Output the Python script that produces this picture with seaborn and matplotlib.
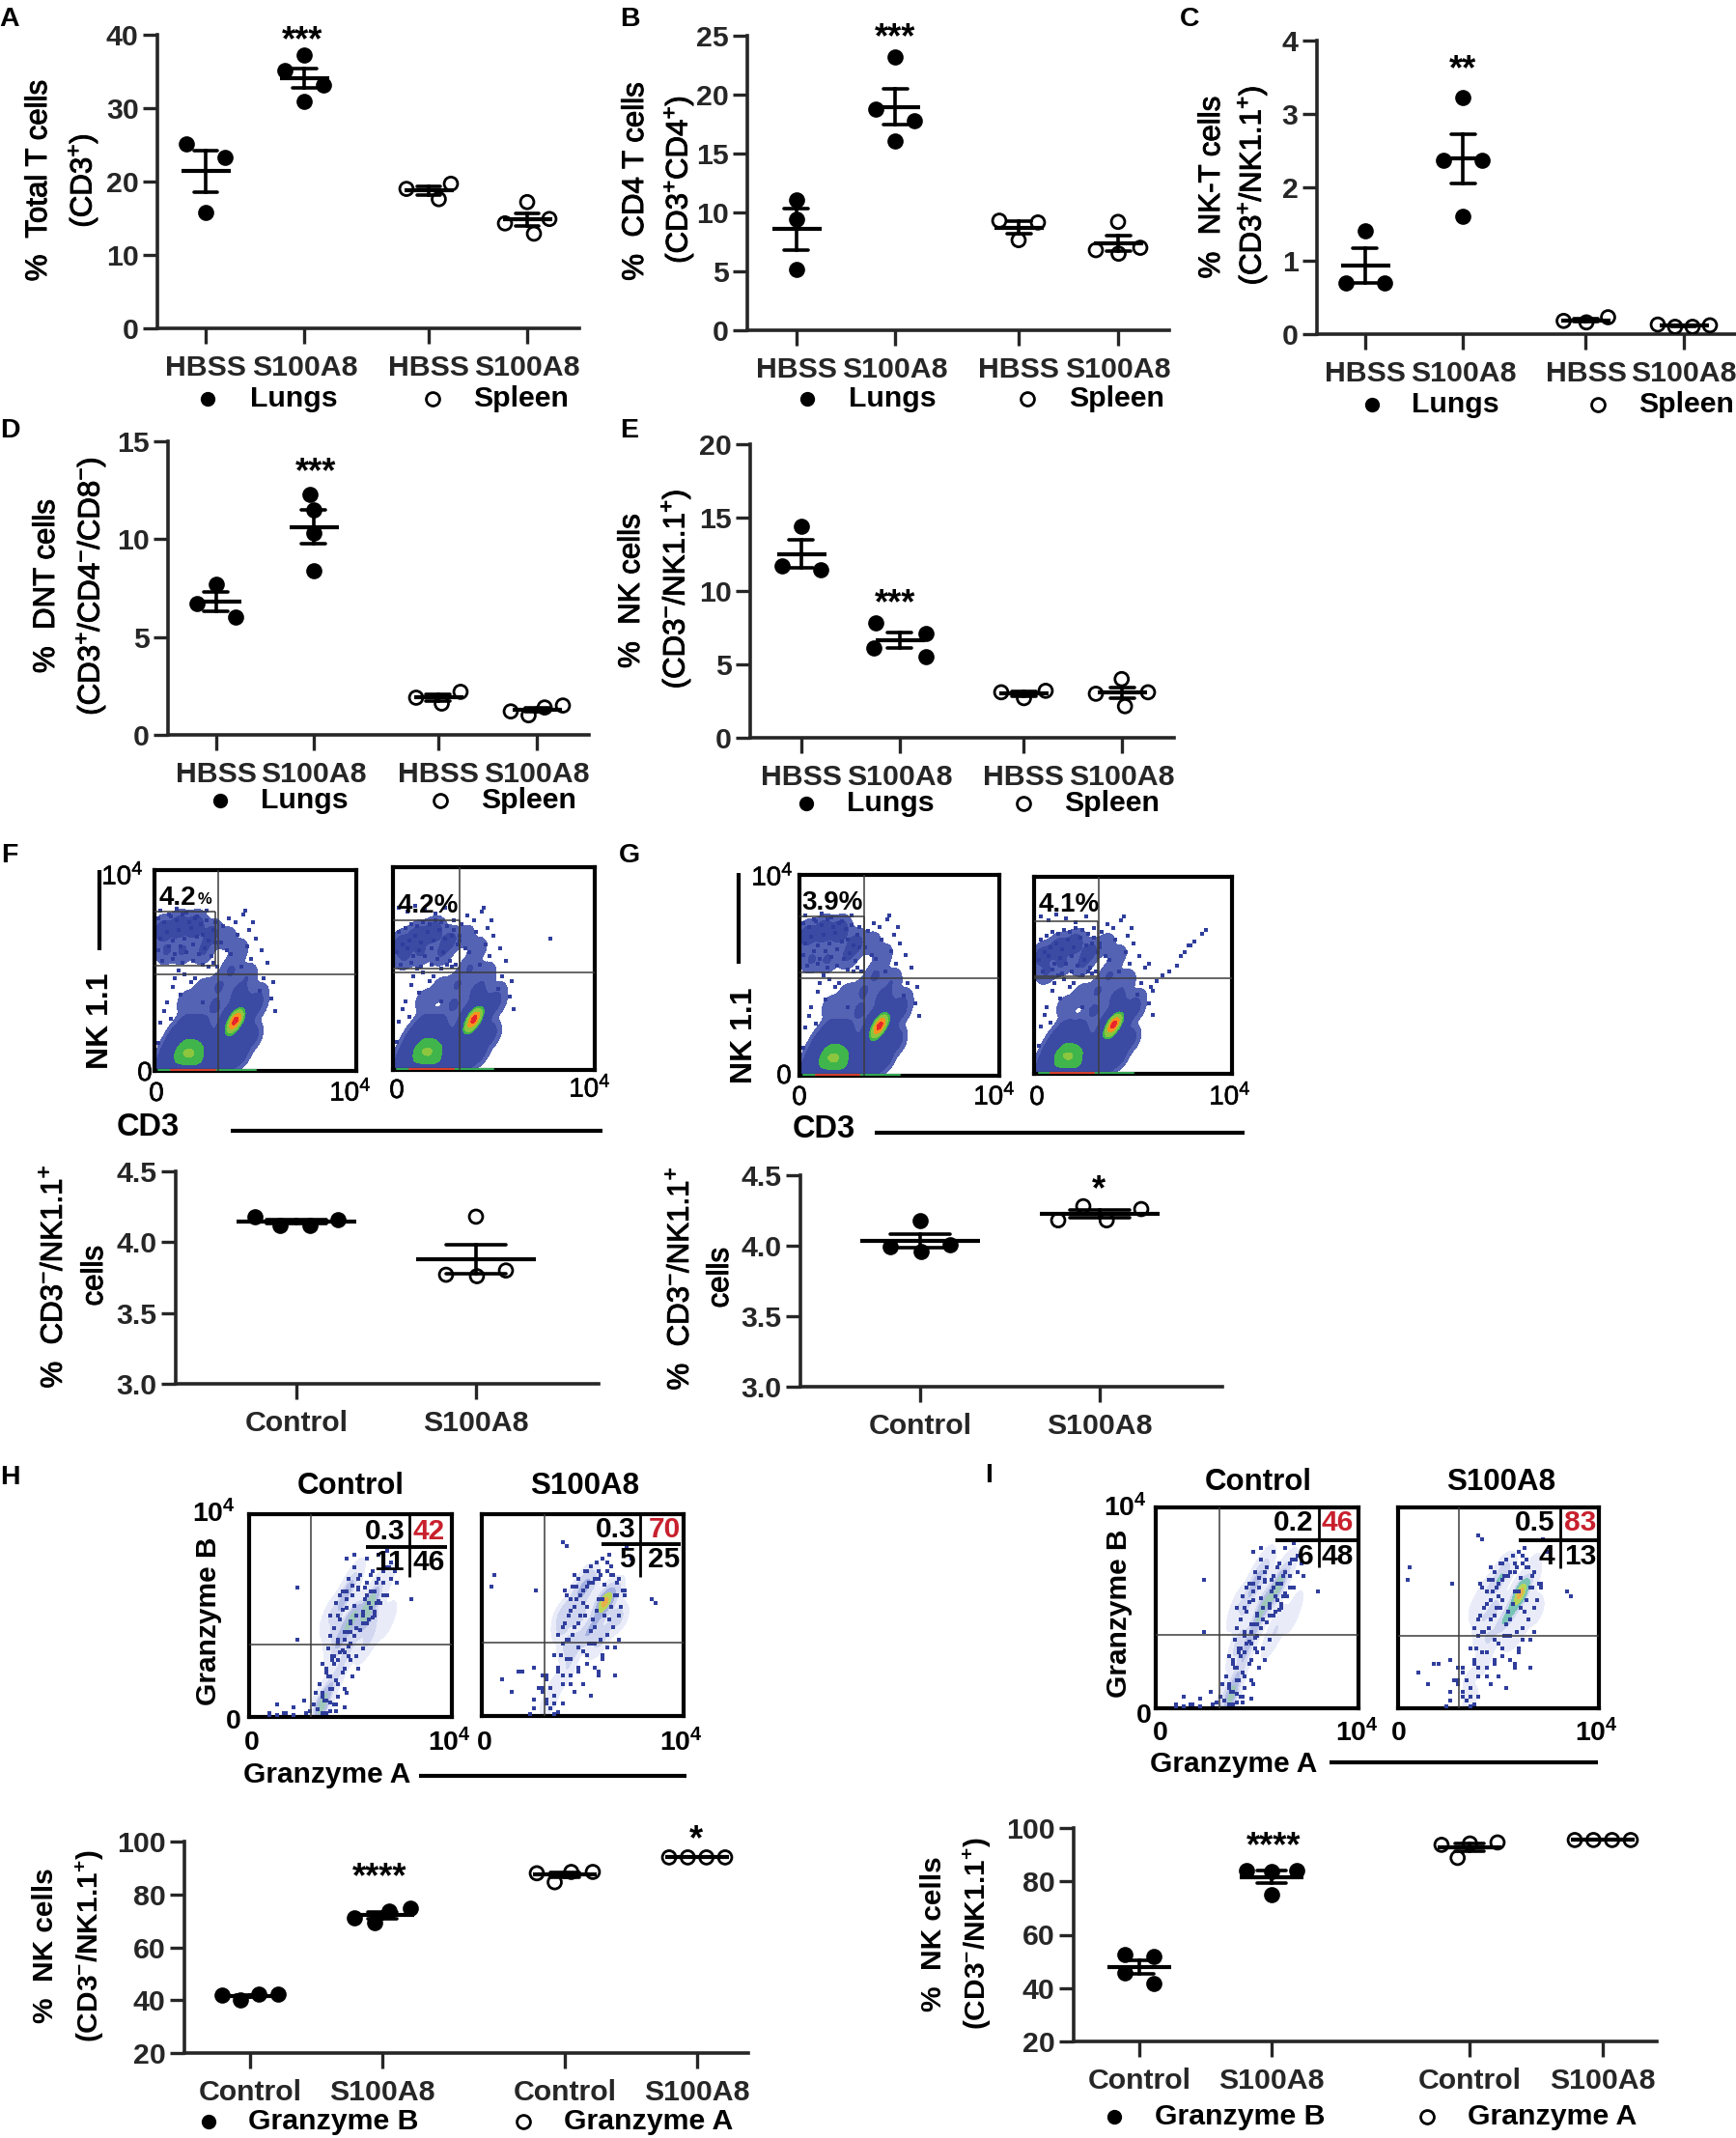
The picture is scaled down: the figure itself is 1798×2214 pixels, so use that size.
import numpy as np
import pandas as pd
import matplotlib
matplotlib.use("Agg")
import matplotlib.pyplot as plt
import matplotlib.patheffects as pe
from matplotlib.colors import ListedColormap
import seaborn as sns

# values, one list per group
a_vals = [[25.1, 23.3, 15.8], [37.2, 35.1, 33.2, 30.9], [19.7, 19.0, 17.6], [17.2, 14.9, 14.3, 12.9]]
b_vals = [[11.1, 9.4, 5.2], [23.2, 18.8, 17.8, 16.1], [9.3, 9.15, 7.65], [9.2, 7.0, 6.5, 6.8]]
c_vals = [[1.41, 0.70, 0.70], [3.22, 2.37, 2.37, 1.60], [0.23, 0.16, 0.18], [0.12, 0.10, 0.10, 0.13]]
d_vals = [[7.7, 6.7, 6.0], [12.3, 11.5, 10.3, 8.4], [2.2, 1.9, 1.6], [1.5, 1.4, 1.2, 1.0]]
e_vals = [[14.4, 11.7, 11.45], [7.8, 7.1, 6.15, 5.5], [3.2, 3.1, 2.7], [4.0, 3.1, 3.0, 2.15]]
f_vals = [[4.12, 4.18, 4.12, 4.16], [4.18, 3.80, 3.77, 3.76]]
g_vals = [[4.18, 4.01, 3.99, 3.96], [4.28, 4.26, 4.18, 4.18]]
h_vals = [[42.2, 40.1, 41.8, 42.2], [73.6, 69.3, 71.0, 74.7], [88.5, 84.6, 88.0, 88.5], [94.0, 94.0, 94.0, 94.0]]
i_vals = [[51.7, 52.6, 45.6, 41.6], [84.0, 83.7, 84.0, 75.0], [94.6, 94.2, 93.7, 88.8], [95.5, 95.5, 95.5, 95.5]]

hbss_labels = ["HBSS", "S100A8", "HBSS", "S100A8"]
ctrl_labels = ["Control", "S100A8"]
ctrl4_labels = ["Control", "S100A8", "Control", "S100A8"]

# flow plots: density anchors (percent of the plot box) and stray events
nk_x = [4, 12, 20, 28, 6, 14, 24]
nk_w = [2, 2.5, 2.5, 1.5, 1, 1, 1]
f1_nk_y = [70, 72, 72, 68, 60, 60, 60]
f2_nk_y = [62, 66, 68, 64, 56, 58, 58]
g1_nk_y = [70, 72, 72, 66, 58, 58, 60]
g2_nk_y = [60, 64, 66, 62, 52, 56, 56]
mid_x = [36, 42, 38, 46, 32, 24, 42, 50, 30, 16, 52]
mid_y = [66, 60, 50, 47, 42, 40, 38, 33, 32, 34, 38]
mid_w = [.5, .5, 1, .8, 1, .6, 2, 1.5, 1.2, .6, .5]
low_x = [6, 11, 16, 21, 26, 9, 14, 19, 24, 12, 17, 22, 26, 16, 22]
low_y = [4, 4, 4, 4, 4, 10, 10, 10, 10, 16, 16, 16, 14, 22, 22]
low_w = [5, 9, 10, 10, 7, 7, 11, 11, 8, 6, 8, 7, 4, 3, 3]
hot_x = [37, 40, 43, 36, 41, 47]
hot_y = [20, 25, 29, 6, 10, 18]
hot_w = [16, 26, 14, 5, 6, 3]

fg_dots_x = [3, 7, 11, 16, 21, 26, 30, 34, 37, 40, 44, 47, 50, 53, 56, 59, 33, 38, 43, 48, 54, 12, 20, 27, 9, 6, 13, 18, 24, 31, 36, 41, 46, 52, 58, 60, 45, 49, 3, 5, 8, 2, 15, 10]
fg_dots_y = [80, 78, 81, 79, 77, 80, 74, 72, 76, 74, 78, 70, 66, 60, 54, 44, 64, 58, 52, 56, 46, 50, 46, 52, 42, 34, 38, 44, 34, 52, 60, 68, 62, 40, 36, 30, 80, 74, 24, 30, 26, 14, 48, 46]
nk_hi_x = [2, 5, 8, 11, 14, 17, 20, 23, 26, 29, 3, 6, 9, 12, 15, 18, 21, 24, 27, 30, 2, 7, 10, 13, 16, 19, 22, 25, 28, 4, 9, 14, 19, 24, 29]
nk_hi_y = [76, 74, 77, 75, 78, 74, 76, 73, 75, 70, 66, 69, 65, 70, 66, 71, 67, 68, 65, 64, 60, 62, 58, 62, 59, 63, 58, 61, 57, 55, 56, 54, 55, 53, 54]
nk_lo_x = [3, 6, 9, 12, 15, 18, 21, 24, 27, 30, 33, 5, 8, 11, 14, 17, 20, 23, 26, 29, 32, 2, 7, 10, 13, 16, 19, 22, 25, 28, 4, 9, 14, 19, 24, 29]
nk_lo_y = [68, 70, 72, 71, 73, 72, 74, 73, 71, 69, 66, 62, 64, 66, 63, 68, 64, 69, 65, 66, 62, 58, 60, 56, 59, 56, 60, 55, 58, 54, 52, 53, 51, 52, 50, 51]
g2_tail_x = [87, 85, 81, 79, 76, 74, 72, 68, 65, 62, 58, 60, 78]
g2_tail_y = [73, 71, 67, 65, 62, 60, 55, 52, 50, 47, 56, 42, 65]

# granzyme clouds
cloud_x = [40, 48, 60, 68, 52, 42, 56]
cloud_y = [50, 62, 40, 48, 68, 36, 34]
cloud_w = [2, 2, 2, 1.5, 2, 1.5, 1]
h1_x = [36, 38, 34, 42, 46, 44, 50, 48, 42, 52, 58, 62, 46, 68, 56, 62]
h1_y = [4, 12, 6, 18, 26, 34, 36, 45, 44, 50, 53, 60, 56, 68, 44, 50]
h1_w = [4, 2, 2, 1.5, 1.5, 2, 2, 3, 2, 4, 5, 3, 2, 1, 2, 2]
h2_x = [33, 36, 42, 44, 46, 40, 48, 52, 60, 62, 56, 66, 50, 44, 54, 66]
h2_y = [6, 14, 22, 30, 36, 44, 50, 40, 55, 58, 46, 62, 60, 54, 66, 50]
h2_w = [1, 1, 1.2, 1.5, 2, 2, 3, 3, 6, 5, 3, 2, 2, 2, 2, 1.5]
i1_x = [37, 38, 34, 42, 44, 46, 40, 50, 52, 56, 60, 62, 48, 66, 44, 54]
i1_y = [4, 10, 6, 20, 28, 34, 30, 42, 50, 55, 60, 64, 60, 70, 50, 68]
i1_w = [5, 3, 2, 2, 2, 3, 2, 3, 4, 4, 5, 3, 2, 1, 2, 2]
i2_x = [36, 35, 42, 44, 46, 42, 48, 52, 60, 62, 56, 66, 50, 68, 44, 54, 66]
i2_y = [5, 14, 22, 30, 36, 44, 50, 42, 55, 60, 48, 64, 62, 72, 58, 70, 50]
i2_w = [1, .6, 1, 1.2, 2.5, 2.5, 4, 4, 8, 7, 5, 2, 2.5, .8, 2, 2.5, 2]

h1_dx = [40, 42, 44, 46, 48, 50, 52, 54, 56, 58, 60, 62, 64, 66, 68, 70, 72, 44, 47, 50, 53, 56, 59, 62, 65, 42, 46, 49, 52, 55, 58, 61, 45, 48, 51, 54, 57, 60, 63, 66, 69, 36, 38, 41, 43, 45, 47, 49, 51, 33, 35, 37, 39, 41, 44, 47, 30, 32, 34, 36, 38, 40, 43, 14, 17, 22, 27, 24, 10, 48]
h1_dy = [40, 44, 50, 53, 58, 47, 55, 63, 50, 60, 54, 62, 57, 66, 60, 68, 72, 36, 38, 42, 44, 46, 48, 52, 56, 30, 33, 35, 40, 43, 46, 49, 60, 62, 65, 68, 64, 70, 66, 72, 74, 26, 22, 28, 18, 32, 24, 30, 20, 12, 16, 8, 20, 14, 10, 5, 3, 6, 4, 10, 2, 7, 3, 6, 2, 5, 8, 64, 1, 12]
h2_dx = [40, 43, 46, 49, 52, 55, 58, 61, 64, 67, 70, 42, 45, 48, 51, 54, 57, 60, 63, 66, 69, 44, 47, 50, 53, 56, 59, 62, 65, 68, 41, 46, 52, 58, 64, 71, 48, 54, 60, 66, 36, 38, 40, 42, 44, 48, 52, 56, 60, 46, 50, 54, 58, 30, 32, 34, 36, 26, 24, 30, 32, 18, 15, 27, 40, 62]
h2_dy = [44, 50, 54, 60, 64, 66, 68, 65, 70, 66, 62, 38, 40, 46, 50, 42, 52, 58, 48, 60, 54, 58, 64, 56, 36, 44, 38, 40, 44, 50, 62, 70, 72, 72, 74, 60, 34, 36, 30, 34, 30, 24, 20, 28, 16, 22, 30, 24, 28, 12, 16, 10, 20, 14, 8, 4, 1, 4, 1, 12, 20, 22, 12, 62, 86, 76]
i1_dx = [40, 43, 46, 49, 52, 55, 58, 61, 64, 67, 70, 73, 42, 45, 48, 51, 54, 57, 60, 63, 66, 44, 47, 50, 53, 56, 59, 62, 39, 41, 44, 47, 50, 53, 56, 48, 52, 58, 64, 68, 38, 40, 42, 44, 46, 50, 54, 36, 38, 40, 42, 44, 47, 34, 36, 38, 40, 43, 28, 22, 14, 10, 18, 48, 80, 24]
i1_dy = [50, 56, 62, 68, 74, 70, 66, 72, 68, 74, 76, 66, 44, 48, 54, 60, 64, 58, 62, 56, 60, 38, 42, 46, 50, 52, 56, 50, 34, 30, 28, 32, 36, 30, 34, 78, 80, 78, 80, 82, 24, 20, 26, 16, 22, 28, 24, 12, 8, 14, 6, 10, 14, 4, 2, 8, 3, 6, 2, 1, 1, 2, 2, 42, 58, 38]
i2_dx = [38, 41, 44, 47, 50, 53, 56, 59, 62, 65, 68, 71, 40, 43, 46, 49, 52, 55, 58, 61, 64, 67, 42, 45, 48, 51, 54, 57, 60, 63, 39, 44, 50, 56, 62, 68, 74, 38, 40, 44, 48, 52, 58, 66, 34, 36, 32, 28, 30, 34, 38, 26, 24, 36, 32, 20, 26, 6, 5, 10, 42, 72, 84, 86, 40]
i2_dy = [40, 46, 52, 58, 62, 66, 68, 70, 72, 70, 68, 62, 36, 38, 44, 50, 54, 48, 58, 50, 54, 60, 60, 64, 68, 72, 74, 76, 78, 80, 30, 28, 32, 36, 34, 38, 78, 22, 16, 20, 24, 26, 22, 20, 14, 10, 6, 14, 20, 4, 2, 8, 1, 6, 18, 22, 24, 70, 64, 18, 84, 84, 58, 56, 6]

W, H = 1799, 2214
sns.set_style("ticks")
plt.rcParams["font.family"] = "Liberation Sans"
plt.rcParams["mathtext.fontset"] = "custom"
plt.rcParams["mathtext.rm"] = "Liberation Sans"
plt.rcParams["mathtext.default"] = "regular"

fig = plt.figure(figsize=(W / 100, H / 100), dpi=100)
ov = fig.add_axes([0, 0, 1, 1], zorder=10)
ov.set_xlim(0, W)
ov.set_ylim(H, 0)
ov.axis("off")
ov.patch.set_alpha(0)
swarms = []

# how wide a row of 2, 3 or 4 touching dots is drawn, in pixels
spans_small = {2: 40, 3: 46, 4: 54}
spans_wide = {2: 50, 3: 62, 4: 86}
spans_four = {2: 30, 3: 52, 4: 58}


def txt(x, y, s, size=21.8, ha="center", rot=0, weight="bold", color="black", stroke=0):
    t = ov.text(x, y, s, fontsize=size, ha=ha, va="center", rotation=rot, fontweight=weight, color=color)
    if stroke:
        t.set_path_effects([pe.withStroke(linewidth=stroke, foreground=color)])


def rule(x0, x1, y0, y1, lw=2.8, color="black"):
    ov.plot([x0, x1], [y0, y1], color=color, lw=lw, solid_capstyle="butt")


def px_axes(left, right, top, bottom):
    return fig.add_axes([left / W, 1 - bottom / H, (right - left) / W, (bottom - top) / H])


def dot_panel(box, cats, vals, labels, ylim, yticks, filled, bar=51, cap=25, spans=spans_small):
    left, right, top, bottom = box
    ax = px_axes(left, right, top, bottom)
    xs = [c for c, v in zip(cats, vals) for _ in v]
    ys = [y for v in vals for y in v]
    df = pd.DataFrame({"x": xs, "y": ys})
    sns.swarmplot(data=df, x="x", y="y", native_scale=True, color="black", size=10, linewidth=2,
                  edgecolor="black", warn_thresh=1, ax=ax, zorder=3)
    sns.pointplot(data=df, x="x", y="y", native_scale=True, errorbar="se", capsize=cap / (cats[1] - cats[0]),
                  color="black", linestyle="none", marker="_", markersize=bar * 0.72, markeredgewidth=3,
                  err_kws={"linewidth": 2.6}, ax=ax, zorder=4)
    ax.set_xlim(left, right)
    ax.set_ylim(*ylim)
    ax.set_xticks(cats, labels)
    ax.set_yticks(yticks)
    ax.set(xlabel="", ylabel="")
    ax.patch.set_alpha(0)
    sns.despine(ax=ax)
    for s in ["left", "bottom"]:
        ax.spines[s].set_linewidth(2.6)
    ax.tick_params(axis="y", length=11, width=2.4, pad=3, labelsize=21.8)
    ax.tick_params(axis="x", length=11.5, width=2.4, pad=8, labelsize=21.8)
    for t in ax.get_xticklabels() + ax.get_yticklabels():
        t.set_fontweight("bold")
    for c in ax.collections:
        off = c.get_offsets()
        if len(off) == 0:
            continue
        k = int(np.argmin([abs(off[0, 0] - q) for q in cats]))
        if not filled[k]:
            c.set_facecolor("none")
        swarms.append((c, cats[k], 15.5 * (ylim[1] - ylim[0]) / (bottom - top), spans))
    return ax


def flow_panel(box, gx, gy, gw, dots_x, dots_y, levels, colors, dot_size=5, bw=0.22, rim=True):
    left, right, top, bottom = box
    ax = px_axes(left, right, top, bottom)
    sns.kdeplot(x=gx, y=gy, weights=gw, fill=True, levels=levels, cmap=ListedColormap(colors), bw_method=bw,
                gridsize=220, clip=((0, 100), (0, 100)), ax=ax)
    sns.scatterplot(x=dots_x, y=dots_y, color="#2f3e9c", s=dot_size, linewidth=0, marker="s", ax=ax, zorder=3)
    if rim:
        ax.plot([2, 50], [0.6, 0.6], color="#35a853", lw=1.5, zorder=4)
        ax.plot([8, 30], [0.6, 0.6], color="#d6402b", lw=1.5, zorder=5)
    ax.set_xlim(0, 100)
    ax.set_ylim(0, 100)
    ax.set_xticks([])
    ax.set_yticks([])
    ax.set(xlabel="", ylabel="")
    for s in ax.spines.values():
        s.set_visible(True)
        s.set_linewidth(3)
        s.set_color("black")
    return ax


def quad(vx, hy, box):
    rule(vx, vx, box[2], box[3], lw=1.1, color="#3c3c3c")
    rule(box[0], box[1], hy, hy, lw=1.1, color="#3c3c3c")


def gate(box, right, top, bottom):
    rule(box[0], right, top, top, lw=1.1, color="#3c3c3c")
    rule(box[0], right, bottom, bottom, lw=1.1, color="#3c3c3c")
    rule(right, right, top, bottom, lw=1.1, color="#3c3c3c")


def legend(mx1, tx1, s1, mx2, tx2, s2, y):
    ov.plot([mx1], [y], "o", color="black", ms=11, mew=0)
    ov.plot([mx2], [y], "o", mfc="white", mec="black", ms=10, mew=2)
    txt(tx1, y, s1, ha="left")
    txt(tx2, y, s2, ha="left")


def ylab(x1, y1, s1, x2, y2, s2, weight="normal"):
    if weight == "bold":
        txt(x1, y1, s1, size=21.5, rot=90, weight=weight)
        txt(x2, y2, s2, size=21.5, rot=90, weight=weight)
    else:
        txt(x1, y1, s1, size=22.5, rot=90, weight=weight, stroke=0.7)
        txt(x2, y2, s2, size=22.5, rot=90, weight=weight, stroke=0.7)


filled2 = [True, True, False, False]

# dot plots
dot_panel((163, 600, 36, 340), [213, 315.5, 444, 546], a_vals, hbss_labels, (0, 40), [0, 10, 20, 30, 40], filled2)
dot_panel((774, 1211, 37, 342), [824.5, 927, 1055, 1158], b_vals, hbss_labels, (0, 25), [0, 5, 10, 15, 20, 25], filled2)
dot_panel((1364, 1797, 42, 346), [1414, 1515.5, 1642.5, 1744], c_vals, hbss_labels, (0, 4), [0, 1, 2, 3, 4], filled2)
dot_panel((174, 610, 457, 761), [224, 325, 454, 556], d_vals, hbss_labels, (0, 15), [0, 5, 10, 15], filled2)
dot_panel((777.5, 1216, 460, 764), [830, 932, 1060, 1162], e_vals, hbss_labels, (0, 20), [0, 5, 10, 15, 20], filled2)
dot_panel((182, 620, 1213, 1433), [307, 493], f_vals, ctrl_labels, (3, 4.5), [3, 3.5, 4, 4.5], [True, False], bar=124, cap=62, spans=spans_wide)
dot_panel((829, 1266, 1217, 1436), [953, 1139], g_vals, ctrl_labels, (3, 4.5), [3, 3.5, 4, 4.5], [True, False], bar=124, cap=62, spans=spans_wide)
dot_panel((191, 775, 1907, 2126), [259, 396, 585, 722], h_vals, ctrl4_labels, (20, 100), [20, 40, 60, 80, 100], filled2, bar=66, cap=30, spans=spans_four)
dot_panel((1112, 1716, 1893, 2114), [1180, 1317, 1522, 1660], i_vals, ctrl4_labels, (20, 100), [20, 40, 60, 80, 100], filled2, bar=66, cap=30, spans=spans_four)

for ax_ in fig.axes[6:8]:
    ax_.set_yticklabels(["3.0", "3.5", "4.0", "4.5"], fontweight="bold")

ylab(40, 187, "%  Total T cells", 86, 187, "(CD3$^{+}$)")
ylab(658, 188, "%  CD4 T cells", 703, 186, "(CD3$^{+}$CD4$^{+}$)")
ylab(1255, 194, "%  NK-T cells", 1297, 192, "(CD3$^{+}$/NK1.1$^{+}$)")
ylab(48, 607, "%  DNT cells", 94, 607, "(CD3$^{+}$/CD4$^{-}$/CD8$^{-}$)")
ylab(654, 612, "%  NK cells", 700, 610, "(CD3$^{-}$/NK1.1$^{+}$)")
ylab(56, 1322, "%  CD3$^{-}$/NK1.1$^{+}$", 98, 1321, "cells")
ylab(705, 1324, "%  CD3$^{-}$/NK1.1$^{+}$", 746, 1323, "cells")
ylab(47, 2015, "%  NK cells", 93, 2015, "(CD3$^{-}$/NK1.1$^{+}$)", weight="bold")
ylab(967, 2003, "%  NK cells", 1012, 2002, "(CD3$^{-}$/NK1.1$^{+}$)", weight="bold")

legend(215.5, 259, "Lungs", 448, 490, "Spleen", 413)
legend(836.5, 879, "Lungs", 1064, 1107, "Spleen", 413)
legend(1421, 1462, "Lungs", 1655, 1697, "Spleen", 419)
legend(228, 270, "Lungs", 456, 498, "Spleen", 829)
legend(835, 877, "Lungs", 1060, 1102, "Spleen", 832)
legend(216, 257, "Granzyme B", 542, 584, "Granzyme A", 2197)
legend(1154.5, 1196, "Granzyme B", 1478, 1520, "Granzyme A", 2192)

for x, y, s in [(313, 43, "***"), (927, 40, "***"), (1515, 73, "**"), (327, 490, "***"), (927, 626, "***"),
                (1138, 1233, "*"), (393, 1945, "****"), (721, 1906, "*"), (1319, 1913, "****")]:
    txt(x, y, s, size=26)

for x, y, s in [(10, 20, "A"), (652, 20, "B"), (1232, 20, "C"), (10, 446, "D"), (652, 446, "E"),
                (10, 886, "F"), (652, 886, "G"), (10, 1530, "H"), (1024, 1528, "I")]:
    txt(x, y, s, size=20.5)

# flow panels
density_levels = [0.004, 0.012, 0.025, 0.04, 0.06, 0.6, 0.84, 0.93, 0.98, 1]
density_colors = ["#5563b5", "#3b4aa3", "#2a8fd0", "#2bc0c8", "#3fb54b", "#8cc63f", "#f3e61e", "#f7941d", "#e8262a"]
sparse_levels = [0.03, 0.3, 0.6, 0.85, 1]
sparse_colors = ["#e9ecf8", "#d3d8f0", "#b4bde4", "#9fc8bb"]
hot_levels = [0.03, 0.25, 0.5, 0.75, 0.9, 0.97, 1]
hot_colors = ["#e9ecf8", "#cfd5ee", "#a4b0df", "#79c4b6", "#b6d65a", "#e9b04a"]


def anchors(nk_y):
    return nk_x + mid_x + low_x + hot_x, nk_y + mid_y + low_y + hot_y, nk_w + mid_w + low_w + hot_w


fb1 = (160, 369, 901, 1109)
fb2 = (407, 616, 898, 1108)
gb1 = (828, 1035.5, 906, 1114)
gb2 = (1071.5, 1276, 908, 1112)
flow_panel(fb1, *anchors(f1_nk_y), fg_dots_x + nk_hi_x, fg_dots_y + nk_hi_y, density_levels, density_colors)
flow_panel(fb2, *anchors(f2_nk_y), fg_dots_x + nk_lo_x + [78], fg_dots_y + nk_lo_y + [65], density_levels, density_colors)
flow_panel(gb1, *anchors(g1_nk_y), fg_dots_x + nk_hi_x, fg_dots_y + nk_hi_y, density_levels, density_colors)
flow_panel(gb2, *anchors(g2_nk_y), fg_dots_x + nk_lo_x + g2_tail_x, fg_dots_y + nk_lo_y + g2_tail_y, density_levels, density_colors)

quad(226, 1009, fb1)
gate(fb1, 223, 944, 1000)
txt(184, 930, "4.2", size=20)
txt(212, 932, "%", size=12)
quad(476, 1007, fb2)
gate(fb2, 476, 953, 1003)
txt(443, 938, "4.2%", size=20)
quad(895, 1013, gb1)
gate(gb1, 895, 949, 1007)
txt(862, 935, "3.9%", size=20)
quad(1138, 1013, gb2)
gate(gb2, 1137, 954, 1011)
txt(1107, 937, "4.1%", size=20)

for x, y, s in [(127, 908, "10$^{4}$"), (150, 1112, "0"), (162, 1133, "0"), (363, 1132, "10$^{4}$"),
                (411, 1130, "0"), (611, 1128, "10$^{4}$"), (800, 909, "10$^{4}$"), (812, 1115, "0"),
                (828, 1137, "0"), (1030, 1136, "10$^{4}$"), (1074, 1137, "0"), (1274, 1136, "10$^{4}$")]:
    txt(x, y, s, size=20, weight="normal", stroke=0.4)
txt(104, 1057, "NK 1.1", size=23, rot=90)
rule(103, 103, 901, 984, lw=3)
txt(153, 1168, "CD3", size=23.5)
rule(239, 624, 1171, 1171, lw=3)
txt(771, 1072, "NK 1.1", size=23, rot=90)
rule(765, 765, 904, 998, lw=3)
txt(853, 1169, "CD3", size=23.5)
rule(906, 1289, 1173, 1173, lw=3)

hb1 = (258, 468, 1568, 1778)
hb2 = (499, 708, 1568, 1777)
ib1 = (1197, 1407, 1561, 1769)
ib2 = (1448, 1656, 1561, 1769)
flow_panel(hb1, h1_x + cloud_x, h1_y + cloud_y, h1_w + cloud_w, h1_dx + i1_dx, h1_dy + i1_dy, sparse_levels, sparse_colors, dot_size=6, bw=0.3, rim=False)
flow_panel(hb2, h2_x + cloud_x, h2_y + cloud_y, h2_w + cloud_w, h2_dx + i2_dx, h2_dy + i2_dy, hot_levels, hot_colors, dot_size=6, bw=0.3, rim=False)
flow_panel(ib1, i1_x + cloud_x, i1_y + cloud_y, i1_w + cloud_w, i1_dx + h1_dx, i1_dy + h1_dy, sparse_levels, sparse_colors, dot_size=6, bw=0.3, rim=False)
flow_panel(ib2, i2_x + cloud_x, i2_y + cloud_y, i2_w + cloud_w, i2_dx + h2_dx, i2_dy + h2_dy, hot_levels, hot_colors, dot_size=6, bw=0.3, rim=False)

red = "#c8202d"
quad(322, 1703, hb1)
quad(564, 1701, hb2)
quad(1263, 1693, ib1)
quad(1511, 1694, ib2)
for s, x, y in [("Control", 363, 1539), ("S100A8", 606, 1539), ("Control", 1303, 1535), ("S100A8", 1555, 1535)]:
    txt(x, y, s, size=22.5)
rule(379, 463, 1602, 1602)
rule(424.5, 424.5, 1568, 1633, lw=2)
rule(623, 705, 1599, 1599)
rule(663, 663, 1568, 1633, lw=2)
rule(1321, 1405, 1595, 1595)
rule(1366, 1366, 1561, 1623, lw=2)
rule(1573, 1655, 1595, 1595)
rule(1616, 1616, 1561, 1624, lw=2)
for x, y, s in [(399, 1586, "0.3"), (403, 1618, "11"), (444, 1618, "46"), (638, 1584, "0.3"), (649, 1615, "5"), (688, 1615, "25"),
                (1340, 1577, "0.2"), (1352, 1612, "6"), (1385, 1612, "48"), (1590, 1577, "0.5"), (1602, 1612, "4"), (1637, 1612, "13")]:
    txt(x, y, s, size=21.5)
for x, y, s in [(444, 1586, "42"), (688, 1584, "70"), (1385, 1577, "46"), (1637, 1577, "83")]:
    txt(x, y, s, size=21.5, color=red)

for x, y, s in [(221, 1568, "10$^{4}$"), (242, 1783, "0"), (261, 1805, "0"), (465, 1805, "10$^{4}$"), (502, 1805, "0"), (705, 1805, "10$^{4}$"),
                (1165, 1562, "10$^{4}$"), (1185, 1777, "0"), (1202, 1795, "0"), (1405, 1795, "10$^{4}$"), (1449, 1795, "0"), (1653, 1795, "10$^{4}$")]:
    txt(x, y, s, size=20.5)
txt(216, 1679, "Granzyme B", size=21.5, rot=90)
txt(339, 1838, "Granzyme A", size=21.5)
rule(434, 711, 1839, 1839, lw=3)
txt(1159, 1671, "Granzyme B", size=21.5, rot=90)
txt(1278, 1827, "Granzyme A", size=21.5)
rule(1377, 1655, 1825, 1825, lw=3)

# lay the swarms out, then centre each row of touching dots and spread it like the original
fig.canvas.draw()
for c, center, gap, spans in swarms:
    xy = np.array(c.get_offsets())
    order = np.argsort(xy[:, 1])
    rows = [[order[0]]]
    for a, b in zip(order[:-1], order[1:]):
        if xy[b, 1] - xy[a, 1] < gap:
            rows[-1].append(b)
        else:
            rows.append([b])
    for r in rows:
        lo, hi = xy[r, 0].min(), xy[r, 0].max()
        if hi > lo:
            xy[r, 0] = center + (xy[r, 0] - (lo + hi) / 2) * spans[len(r)] / (hi - lo)
    del c.draw
    c.set_offsets(xy)

fig.savefig("out.png", dpi=100)
